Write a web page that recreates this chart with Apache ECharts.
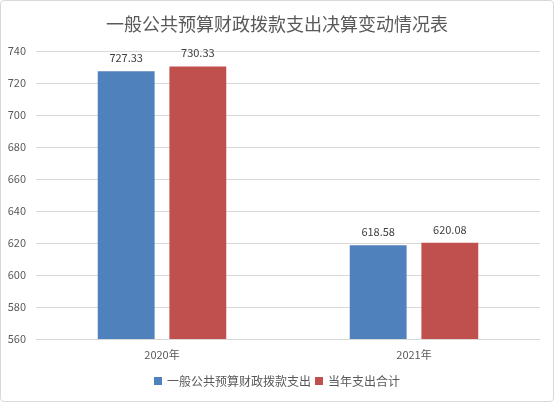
<!DOCTYPE html>
<html>
<head>
<meta charset="utf-8">
<script src="https://cdn.jsdelivr.net/npm/echarts@6/dist/echarts.min.js"></script>
<style>
  html, body { margin: 0; padding: 0; background: #fff; }
  #main { width: 552px; height: 400px; border: 1px solid #d9d9d9; border-radius: 4px; }
</style>
</head>
<body>
<div id="main"></div>
<script>
    // 数据
    var categories = ['2020年', '2021年'];
    var seriesNames = ['一般公共预算财政拨款支出', '当年支出合计'];
    var budgetData = [727.33, 618.58];
    var totalData = [730.33, 620.08];

    var myChart = echarts.init(document.getElementById('main'));
    var font = '"Microsoft YaHei", "Noto Sans CJK SC", sans-serif';

    var option = {
        animation: false,
        textStyle: { fontFamily: font },
        title: {
            text: '一般公共预算财政拨款支出决算变动情况表',
            left: 'center',
            top: 9,
            textStyle: { fontSize: 18, fontWeight: 'normal', color: '#595959', fontFamily: font }
        },
        legend: {
            bottom: 9,
            icon: 'rect',
            itemWidth: 8,
            itemHeight: 8,
            itemGap: 4,
            textStyle: { fontSize: 12, color: '#595959' },
            data: seriesNames
        },
        grid: { left: 35, right: 13, top: 50, bottom: 62 },
        xAxis: {
            type: 'category',
            data: categories,
            axisTick: { show: false },
            axisLine: { lineStyle: { color: '#d9d9d9' } },
            axisLabel: { color: '#595959', fontSize: 11, margin: 10 }
        },
        yAxis: {
            type: 'value',
            min: 560,
            max: 740,
            interval: 20,
            axisLine: { show: false },
            axisTick: { show: false },
            axisLabel: { color: '#595959', fontSize: 11, margin: 10 },
            splitLine: { lineStyle: { color: '#d9d9d9' } }
        },
        series: [
            {
                name: seriesNames[0],
                type: 'bar',
                data: budgetData,
                barGap: '26%',
                barCategoryGap: '49%',
                itemStyle: { color: '#4f81bd' },
                label: { show: true, position: 'top', distance: 8, color: '#404040', fontSize: 11 }
            },
            {
                name: seriesNames[1],
                type: 'bar',
                data: totalData,
                itemStyle: { color: '#c0504d' },
                label: { show: true, position: 'top', distance: 8, color: '#404040', fontSize: 11 }
            }
        ]
    };
    myChart.setOption(option);
</script>
</body>
</html>
